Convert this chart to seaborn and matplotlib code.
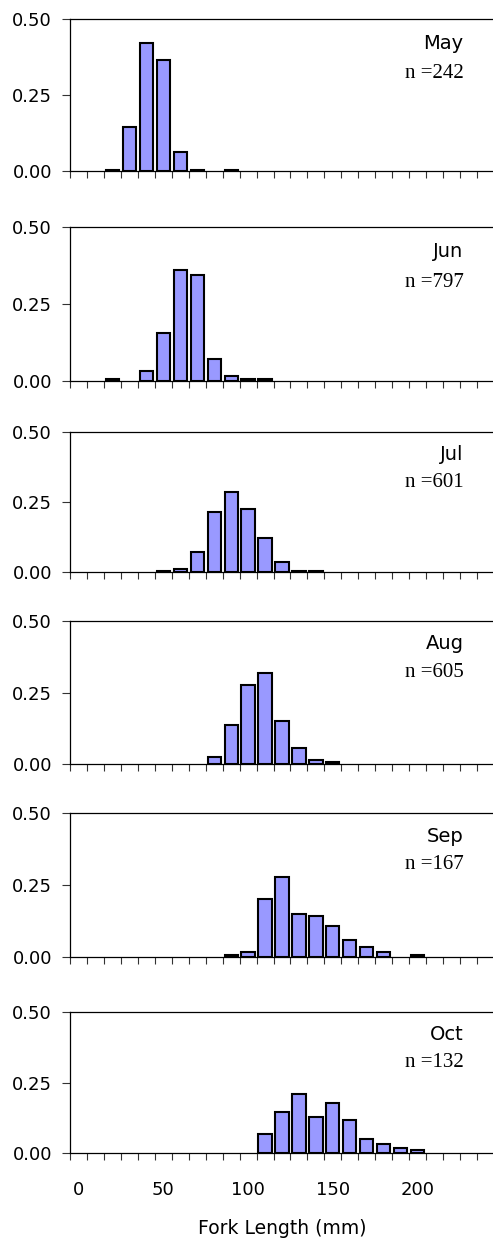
import numpy as np
import pandas as pd
import seaborn as sns
import matplotlib.pyplot as plt

# Fork length classes (mm), one category every 10 mm
length_bins = list(range(0, 250, 10))

months = ["May", "Jun", "Jul", "Aug", "Sep", "Oct"]
sample_sizes = [242, 797, 601, 605, 167, 132]

# proportion of fish in each length class
may = [0, 0, 0.002, 0.145, 0.420, 0.365, 0.064, 0.002, 0, 0.002, 0, 0, 0,
       0, 0, 0, 0, 0, 0, 0, 0, 0, 0, 0, 0]
jun = [0, 0, 0.006, 0, 0.032, 0.157, 0.360, 0.343, 0.070, 0.016, 0.006, 0.006, 0,
       0, 0, 0, 0, 0, 0, 0, 0, 0, 0, 0, 0]
jul = [0, 0, 0, 0, 0, 0.002, 0.011, 0.070, 0.216, 0.284, 0.225, 0.122, 0.036,
       0.002, 0.002, 0, 0, 0, 0, 0, 0, 0, 0, 0, 0]
aug = [0, 0, 0, 0, 0, 0, 0, 0, 0.026, 0.138, 0.277, 0.319, 0.152,
       0.055, 0.013, 0.006, 0, 0, 0, 0, 0, 0, 0, 0, 0]
sep = [0, 0, 0, 0, 0, 0, 0, 0, 0, 0.006, 0.017, 0.201, 0.277,
       0.150, 0.142, 0.109, 0.058, 0.035, 0.017, 0, 0.006, 0, 0, 0, 0]
oct_ = [0, 0, 0, 0, 0, 0, 0, 0, 0, 0, 0, 0.066, 0.144,
        0.210, 0.127, 0.178, 0.117, 0.051, 0.033, 0.017, 0.009, 0, 0, 0, 0]

proportions = [may, jun, jul, aug, sep, oct_]

sns.set_theme(style="white")
plt.rcParams["font.family"] = ["DejaVu Sans"]
plt.rcParams["text.color"] = "black"
plt.rcParams["xtick.labelcolor"] = "black"
plt.rcParams["ytick.labelcolor"] = "black"

W, H = 493, 1243
fig = plt.figure(figsize=(W / 100, H / 100), dpi=100)

# panel top / bottom in pixels
panel_px = [(19, 171), (227, 381), (432, 572), (621, 764), (813, 957), (1012, 1153)]
left_px, width_px = 70, 424

order = [str(b) for b in length_bins]

for i, (name, n, vals) in enumerate(zip(months, sample_sizes, proportions)):
    top, bot = panel_px[i]
    ax = fig.add_axes([left_px / W, 1 - bot / H, width_px / W, (bot - top) / H])

    df = pd.DataFrame({"length": order, "prop": vals})
    df = df[df["prop"] > 0]
    sns.barplot(data=df, x="length", y="prop", order=order, color="#9999ff",
                saturation=1, edgecolor="black", linewidth=1.5, width=0.78, ax=ax)

    ax.set_xlim(-0.5, len(length_bins) - 0.5)
    ax.set_ylim(0, 0.5)
    ax.set_yticks([0, 0.25, 0.5])
    ax.set_yticklabels(["0.00", "0.25", "0.50"])
    ax.set_xlabel("")
    ax.set_ylabel("")

    ax.set_xticks(range(0, 21, 5))
    ax.set_xticks(np.arange(-0.5, len(length_bins), 1), minor=True)
    if i == len(months) - 1:
        ax.set_xticklabels(["0", "50", "100", "150", "200"])
    else:
        ax.set_xticklabels([])
    ax.tick_params(axis="x", which="major", length=0, pad=20, labelsize=13)
    ax.tick_params(axis="x", which="minor", length=5, width=0.8, color="#333333",
                   direction="out", bottom=True)
    ax.tick_params(axis="y", length=6, width=0.8, color="#333333", direction="out",
                   left=True, pad=7, labelsize=13)

    ax.spines["right"].set_visible(False)
    for s in ["left", "top", "bottom"]:
        ax.spines[s].set_color("black")
        ax.spines[s].set_linewidth(0.9)

    ax.text(0.928, 0.84, name, transform=ax.transAxes, ha="right", va="center",
            fontsize=14)
    ax.text(0.928, 0.64, f"n ={n}", transform=ax.transAxes, ha="right", va="center",
            fontsize=15, family=["Liberation Serif", "DejaVu Serif"])

fig.text((left_px + width_px / 2) / W, 1 - 1228 / H, "Fork Length (mm)",
         ha="center", va="center", fontsize=13.5)

fig.savefig("out.png", dpi=100)
